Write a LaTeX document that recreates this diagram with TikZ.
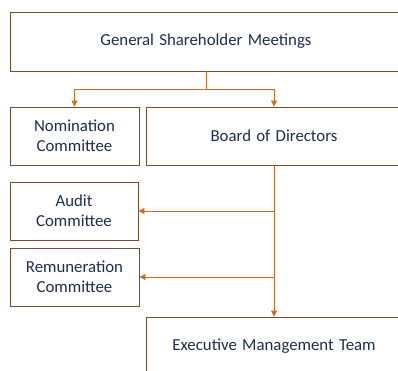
\documentclass[tikz,border=0pt]{standalone}
\usepackage{fontspec}
\setmainfont[WordSpace=1.4]{Carlito}
\usetikzlibrary{arrows.meta}
\definecolor{boxline}{HTML}{7A4A33}
\definecolor{linkline}{HTML}{D2691E}
\definecolor{labeltext}{HTML}{1F2D4D}
\begin{document}
\begin{tikzpicture}[x=1pt,y=-1pt,
  orgbox/.style={draw=boxline,line width=0.9pt,fill=white,rectangle,inner sep=0pt,
    text=labeltext,font=\fontsize{16.8}{20}\selectfont,align=center},
  link/.style={draw=linkline,line width=0.9pt,-{Triangle[length=6pt,width=6pt]}}]
\useasboundingbox (0,0) rectangle (398,370);
\clip (0,0) rectangle (398,370);
% boxes
\node[orgbox,minimum width=392pt,minimum height=59pt] (gsm) at (206,41.5) {General Shareholder Meetings};
\node[orgbox,minimum width=129pt,minimum height=58pt] (nom) at (74.5,136) {Nomination\\Committee};
\node[orgbox,minimum width=256pt,minimum height=58pt] (bod) at (274,136) {Board of Directors};
\node[orgbox,minimum width=128pt,minimum height=58pt] (aud) at (74,211) {Audit\\Committee};
\node[orgbox,minimum width=129pt,minimum height=58pt] (rem) at (74.5,277) {Remuneration\\Committee};
\node[orgbox,minimum width=256pt,minimum height=58pt] (exe) at (274,346) {Executive Management Team};
% junctions
\coordinate (split) at (206,89);
\coordinate (tapA) at (274,211);
\coordinate (tapR) at (274,277);
% connectors
\draw[link] (gsm.south) -- (split) -| (nom.north);
\draw[link] (split) -| (bod.north);
\draw[link] (bod.south) -- (exe.north);
\draw[link] (tapA) -- (aud.east);
\draw[link] (tapR) -- (rem.east);
\end{tikzpicture}
\end{document}
